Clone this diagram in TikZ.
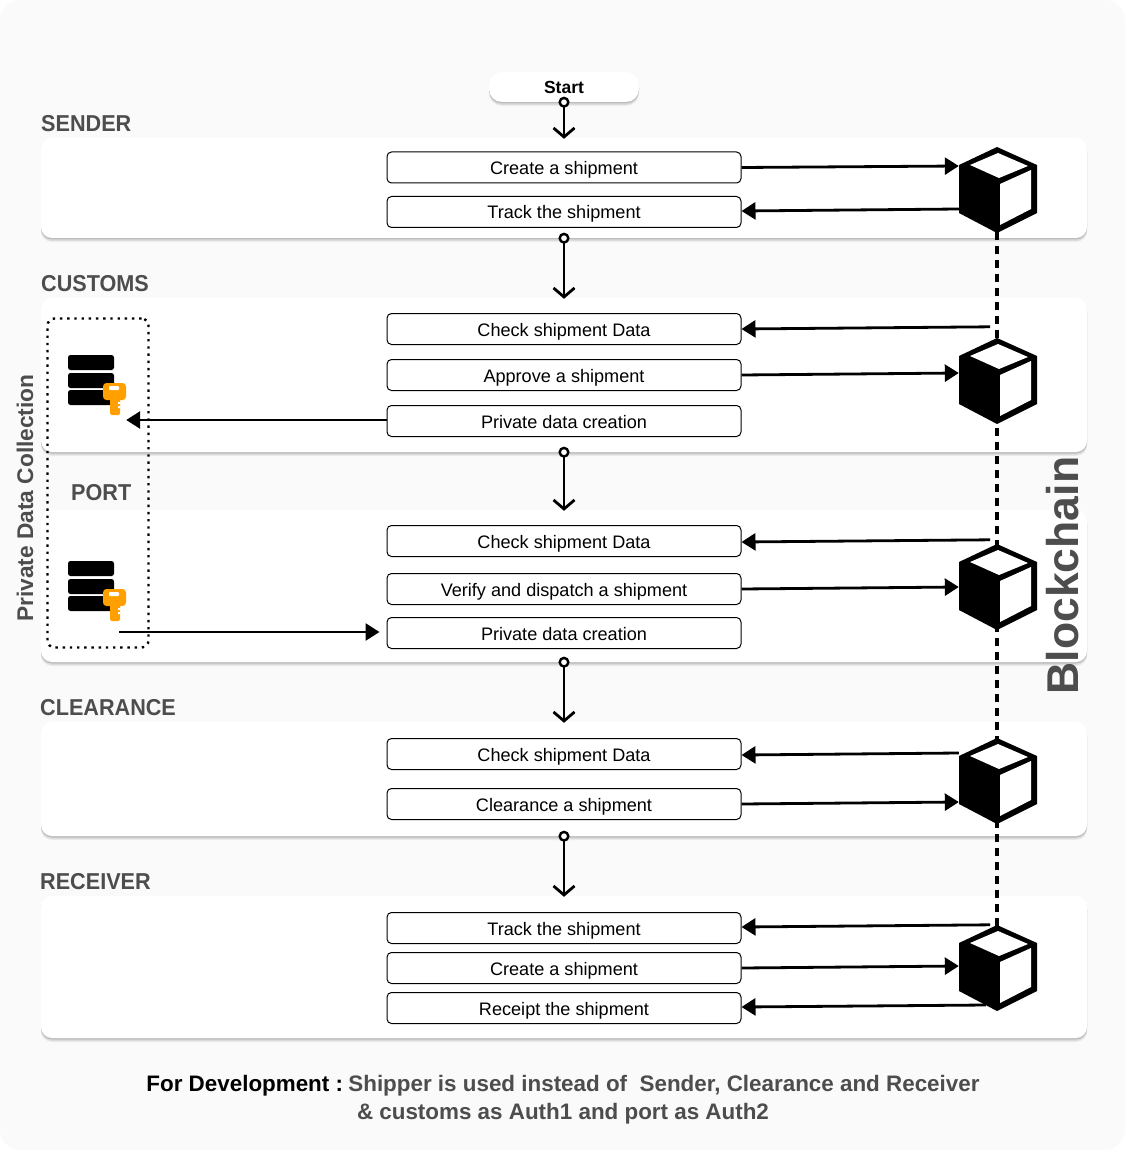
\documentclass[tikz,border=0pt]{standalone}
\usepackage{fontspec}
\setmainfont{Liberation Sans}
\newfontfamily\narrowface[FakeStretch=0.94]{Liberation Sans}
\usetikzlibrary{arrows.meta,calc}
\definecolor{bgc}{HTML}{FAFAFA}
\definecolor{labc}{HTML}{4D4D4D}
\definecolor{keyc}{HTML}{FFA000}
\tikzset{
  softshadow/.style={
    preaction={draw=none,fill=black!7,transform canvas={yshift=-4pt}},
    preaction={draw=none,fill=black!14,transform canvas={yshift=-3pt}},
    preaction={draw=none,fill=black!26,transform canvas={yshift=-1.5pt}}},
  panel/.style={softshadow,fill=white,rounded corners=11pt,inner sep=0pt,minimum width=1046pt},
  startbox/.style={softshadow,fill=white,rounded corners=13pt,inner sep=0pt,minimum width=150pt,minimum height=30pt,text height=13pt,text depth=0pt,font=\fontsize{17.5}{20}\selectfont\bfseries},
  stepbox/.style={draw=black,line width=1pt,fill=white,rounded corners=4.5pt,inner sep=0pt,minimum width=354pt,minimum height=31pt,text height=14pt,text depth=0pt,font=\fontsize{18.1}{20}\selectfont},
  lane/.style={text=labc,font=\narrowface\fontsize{23}{26}\selectfont\bfseries,anchor=west,inner sep=0pt},
  flow/.style={line width=2.8pt,-{Triangle[length=14pt,width=17pt]}},
  down/.style={line width=2.8pt,{Circle[open,fill=white,length=11pt,width=11pt,line width=2.4pt]}-{Straight Barb[length=9pt,width=21pt,line width=2.8pt]}},
  holder/.style={inner sep=0pt,minimum width=76pt,minimum height=84pt},
  dbholder/.style={inner sep=0pt,minimum width=58pt,minimum height=60pt},
  cubeshape/.pic={
    \fill[black] (0,-43) -- (40,-25) -- (40,23) -- (0,43) -- (-38,23) -- (-38,-25) -- cycle;
    \fill[white] (1,-37) -- (31,-24) -- (2,-12) -- (-27,-25) -- cycle;
    \fill[white] (3,-6) -- (34,-20) -- (34,19) -- (3,35) -- cycle;
  },
  dbicon/.pic={
    \fill[black,rounded corners=2.5pt] (-29,-30) rectangle (17,-15);
    \fill[black,rounded corners=2.5pt] (-29,-12) rectangle (17,3);
    \fill[black,rounded corners=2.5pt] (-29,5) rectangle (17,20);
    \fill[keyc,rounded corners=3.5pt] (6,-2) rectangle (29,15);
    \fill[keyc,rounded corners=2pt] (13,10) rectangle (23,30);
    \fill[white,rounded corners=1pt] (12,1) rectangle (22,5);
    \fill[white] (21,17) rectangle (23,19) (21,21) rectangle (23,23);
  }
}
\begin{document}
\begin{tikzpicture}[x=1pt,y=-1pt]
\useasboundingbox (0,0) rectangle (1125,1150);
\fill[bgc,rounded corners=20pt] (0,0) rectangle (1125,1150);
% lanes
\node[panel,minimum height=100pt] (sender) at (564,188) {};
\node[panel,minimum height=154pt] (customs) at (564,375) {};
\node[panel,minimum height=152pt] (port) at (564,586) {};
\node[panel,minimum height=114pt] (clearance) at (564,779) {};
\node[panel,minimum height=142pt] (receiver) at (564,967) {};
\node[startbox] (start) at (564,87) {Start};
% lane labels
\node[lane] (lsender) at (41,124) {SENDER};
\node[lane] (lcustoms) at (41,284) {CUSTOMS};
\node[lane] (lport) at (71,493) {PORT};
\node[lane] (lclearance) at (40,708) {CLEARANCE};
\node[lane] (lreceiver) at (40,882) {RECEIVER};
% private data frame
\node[draw=black,line width=2.4pt,dash pattern=on 2.4pt off 4.8pt,rounded corners=7pt,inner sep=0pt,minimum width=101pt,minimum height=329pt] (frame) at (98,483) {};
% steps
\node[stepbox] (a1) at (564,167.5) {Create a shipment};
\node[stepbox] (a2) at (564,212) {Track the shipment};
\node[stepbox] (b1) at (564,329) {Check shipment Data};
\node[stepbox] (b2) at (564,375) {Approve a shipment};
\node[stepbox] (b3) at (564,421) {Private data creation};
\node[stepbox] (c1) at (564,541) {Check shipment Data};
\node[stepbox] (c2) at (564,589) {Verify and dispatch a shipment};
\node[stepbox] (c3) at (564,633) {Private data creation};
\node[stepbox] (d1) at (564,754) {Check shipment Data};
\node[stepbox] (d2) at (564,804) {Clearance a shipment};
\node[stepbox] (e1) at (564,928) {Track the shipment};
\node[stepbox] (e2) at (564,968) {Create a shipment};
\node[stepbox] (e3) at (564,1008) {Receipt the shipment};
% cube and server holders
\node[holder] (cubeA) at (997,190) {};
\node[holder] (cubeB) at (997,381) {};
\node[holder] (cubeC) at (997,587) {};
\node[holder] (cubeD) at (997,781) {};
\node[holder] (cubeE) at (997,968) {};
\node[dbholder] (dbA) at (97,385) {};
\node[dbholder] (dbB) at (97,591) {};
% blockchain line
\draw[black,line width=4pt,dash pattern=on 8pt off 6pt] (cubeA.south) -- (cubeE.north);
% arrows
\draw[flow] (a1.east) -- ([yshift=24pt]cubeA.west);
\draw[flow] ([yshift=-19pt]cubeA.west) -- ([yshift=1pt]a2.east);
\draw[flow] ([shift={(-7pt,12pt)}]cubeB.north) -- (b1.east);
\draw[flow] (b2.east) -- ([yshift=8pt]cubeB.west);
\draw[flow] ([yshift=1pt]b3.west) -- ([yshift=-35pt]dbA.east);
\draw[flow] ([shift={(-7pt,5pt)}]cubeC.north) -- ([yshift=-1pt]c1.east);
\draw[flow] (c2.east) -- (cubeC.west);
\draw[flow] ([shift={(-7pt,-41pt)}]dbB.east) -- ([shift={(-7pt,1pt)}]c3.west);
\draw[flow] ([yshift=28pt]cubeD.west) -- ([yshift=-1pt]d1.east);
\draw[flow] (d2.east) -- ([yshift=-21pt]cubeD.west);
\draw[flow] ([shift={(-7pt,1pt)}]cubeE.north) -- ([yshift=1pt]e1.east);
\draw[flow] (e2.east) -- ([yshift=2pt]cubeE.west);
\draw[flow] ([shift={(27pt,-37pt)}]cubeE.west) -- ([yshift=1pt]e3.east);
% vertical flow
\draw[down] ([yshift=5.5pt]start.south) -- ([yshift=-1pt]sender.north);
\draw[down] ([yshift=5.5pt]sender.south) -- ([yshift=-1pt]customs.north);
\draw[down] ([yshift=5.5pt]customs.south) -- ([yshift=-1pt]port.north);
\draw[down] ([yshift=5.5pt]port.south) -- ([yshift=-1pt]clearance.north);
\draw[down] ([yshift=5.5pt]clearance.south) -- ([yshift=-1pt]receiver.north);
% icons
\pic at (cubeA) {cubeshape};
\pic at (cubeB) {cubeshape};
\pic at (cubeC) {cubeshape};
\pic at (cubeD) {cubeshape};
\pic at (cubeE) {cubeshape};
\pic at (dbA) {dbicon};
\pic at (dbB) {dbicon};
% side labels
\node[rotate=90,text=labc,font=\fontsize{44.5}{48}\selectfont\bfseries,inner sep=0pt] (blockchain) at (1063,575.5) {Blockchain};
\node[rotate=90,text=labc,font=\fontsize{22.7}{26}\selectfont\bfseries,inner sep=0pt] (pdc) at (25,498) {Private Data Collection};
% note
\node[align=center,text=labc,font=\fontsize{22.4}{28}\selectfont\bfseries,inner sep=0pt] (note) at (563,1100) {\textcolor{black}{For Development :}\hspace{-3pt} Shipper is used instead of\ \ Sender, Clearance and Receiver\\\& customs as Auth1 and port as Auth2};
\end{tikzpicture}
\end{document}
